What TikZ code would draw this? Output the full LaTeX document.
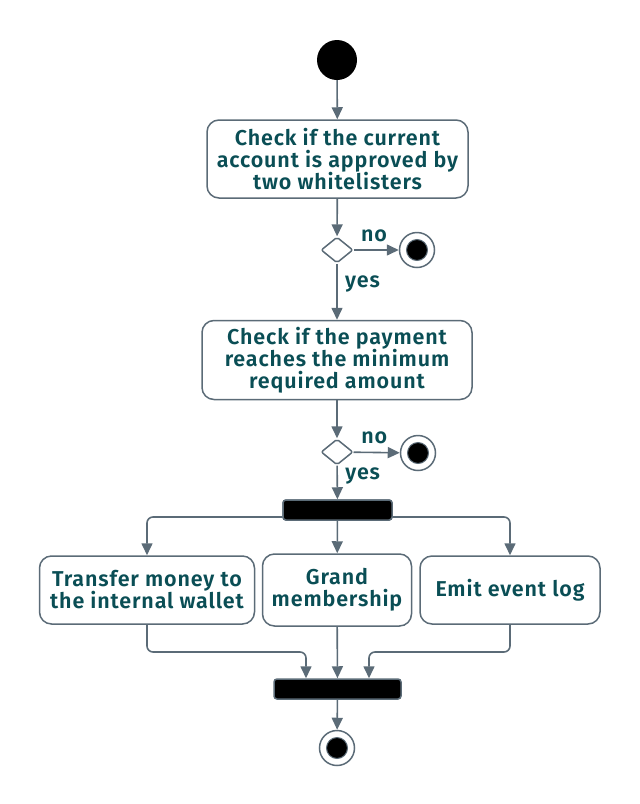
\documentclass[tikz,border=0pt]{standalone}
\usepackage{fontspec}
\setmainfont{Fira Sans}[UprightFont={* SemiBold},LetterSpace=4]
\usetikzlibrary{arrows.meta,shapes.geometric}
\definecolor{linegray}{HTML}{5B6B77}
\definecolor{texteal}{HTML}{0A4E55}
\tikzset{
  act/.style={draw=linegray,line width=1.5pt,rounded corners=12pt,fill=white,align=center,
    text=texteal,font=\fontsize{21.5}{22}\selectfont,inner sep=0pt},
  bar/.style={draw=linegray,fill=black,line width=1.5pt,rounded corners=3pt,inner sep=0pt,minimum height=20pt},
  choice/.style={diamond,draw=linegray,line width=1.5pt,fill=white,minimum width=32pt,minimum height=26pt,inner sep=0pt,aspect=1.2,rounded corners=2pt},
  stopnode/.style={circle,draw=linegray,line width=1.5pt,fill=white,minimum size=35pt,inner sep=0pt,
    path picture={\fill[draw=linegray,line width=1pt,fill=black] (path picture bounding box.center) circle (10.5pt);}},
  flow/.style={draw=linegray,line width=1.6pt,-{Triangle[length=12pt,width=11pt]}},
  lbl/.style={text=texteal,font=\fontsize{21.5}{22}\selectfont}
}
\begin{document}
\begin{tikzpicture}[x=1pt,y=-1pt]
\useasboundingbox (0,0) rectangle (640,804);
%\draw[help lines] (0,0) grid[step=50] (640,804);
\node[circle,fill=black,minimum size=40pt,inner sep=0pt] (start) at (337,60) {};
\node[act,minimum width=261pt,minimum height=78pt] (approve) at (337.5,159) {Check if the current\\account is approved by\\two whitelisters};
\node[choice] (d1) at (337,250) {};
\node[stopnode] (e1) at (417,250) {};
\node[act,minimum width=270pt,minimum height=79pt] (payment) at (337,360) {Check if the payment\\reaches the minimum\\required amount};
\node[choice] (d2) at (337,452) {};
\node[stopnode] (e2) at (418,453) {};
\node[bar,minimum width=109pt] (fork) at (337.5,510) {};
\node[act,minimum width=215pt,minimum height=68pt] (transfer) at (147,590) {Transfer money to\\the internal wallet};
\node[act,minimum width=149pt,minimum height=72pt] (grand) at (337,590) {Grand\\membership};
\node[act,minimum width=180pt,minimum height=68pt] (emit) at (510,590) {Emit event log};
\node[bar,minimum width=127pt] (join) at (337.5,689) {};
\node[stopnode] (stop) at (337,748) {};

\draw[flow] (start) -- (approve);
\draw[flow] (approve) -- (d1);
\draw[flow] (d1) -- node[lbl,above=4pt,pos=0.45] {no} (e1);
\draw[flow] (d1) -- node[lbl,right=4pt,pos=0.37] {yes} (payment);
\draw[flow] (payment) -- (d2);
\draw[flow] (d2) -- node[lbl,above=4pt,pos=0.45] {no} (e2);
\draw[flow] (d2) -- node[lbl,right=4pt,pos=0.3] {yes} (fork);

% fork
\draw[flow,rounded corners=6pt] ([yshift=-7pt]fork.west) -| (transfer.north);
\draw[flow] (fork) -- (grand);
\draw[flow,rounded corners=6pt] ([yshift=-7pt]fork.east) -| (emit.north);
\node[bar,minimum width=109pt] at (fork) {};

% join
\draw[flow,rounded corners=6pt] (transfer.south) -- (transfer.south |- 0,652) -| ([xshift=-31.5pt]join.north);
\draw[flow] (grand) -- (join);
\draw[flow,rounded corners=6pt] (emit.south) -- (emit.south |- 0,652) -| ([xshift=31.5pt]join.north);
\draw[flow] (join) -- (stop);
\end{tikzpicture}
\end{document}
